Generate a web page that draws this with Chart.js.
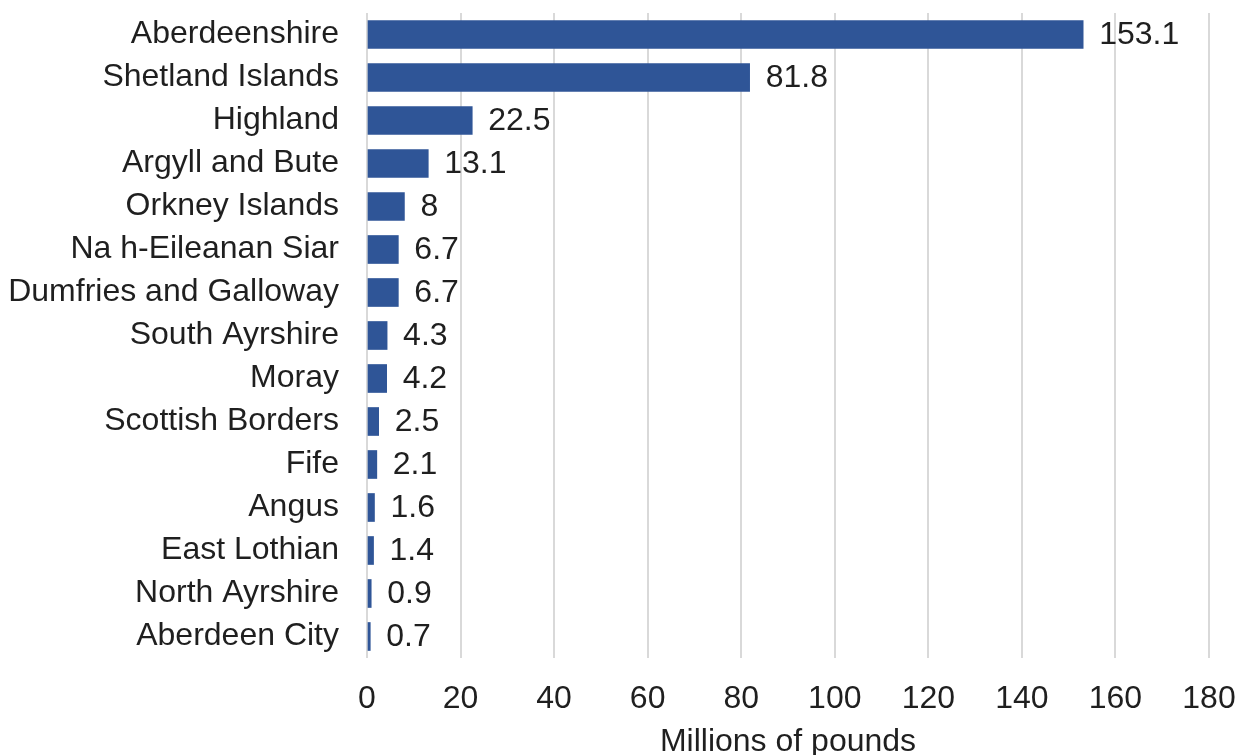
<!DOCTYPE html>
<html>
<head>
<meta charset="utf-8">
<script src="https://cdn.jsdelivr.net/npm/chart.js@4"></script>
<style>
  html, body { margin: 0; padding: 0; background: #fff; }
  #wrap { width: 1246px; height: 755px; }
</style>
</head>
<body>
<div id="wrap"><canvas id="myChart" width="1246" height="755"></canvas></div>
<script>
const areas = ["Aberdeenshire", "Shetland Islands", "Highland", "Argyll and Bute", "Orkney Islands",
    "Na h-Eileanan Siar", "Dumfries and Galloway", "South Ayrshire", "Moray", "Scottish Borders",
    "Fife", "Angus", "East Lothian", "North Ayrshire", "Aberdeen City"];
const values = [153.1, 81.8, 22.5, 13.1, 8, 6.7, 6.7, 4.3, 4.2, 2.5, 2.1, 1.6, 1.4, 0.9, 0.7];
const xTicks = [0, 20, 40, 60, 80, 100, 120, 140, 160, 180];
const axisTitle = "Millions of pounds";

const fontFamily = "'Liberation Sans', Arial, sans-serif";
const textColor = "#1f1f1f";

// value labels at the end of each bar
const barLabels = {
    id: "barLabels",
    afterDatasetsDraw(chart) {
        const ctx = chart.ctx;
        const meta = chart.getDatasetMeta(0);
        ctx.save();
        ctx.font = "32px " + fontFamily;
        ctx.fillStyle = textColor;
        ctx.textBaseline = "middle";
        ctx.textAlign = "left";
        meta.data.forEach((bar, i) => {
            ctx.fillText(String(values[i]), bar.x + 16, bar.y + 1);
        });
        ctx.restore();
    }
};

const ctx = document.getElementById('myChart').getContext('2d');
const myChart = new Chart(ctx, {
    type: 'bar',
    data: {
        labels: areas,
        datasets: [{
            data: values,
            backgroundColor: '#2f5597',
            barThickness: 28,
            categoryPercentage: 1
        }]
    },
    plugins: [barLabels],
    options: {
        indexAxis: 'y',
        responsive: false,
        animation: false,
        layout: { padding: { top: 13, right: 37, left: 0, bottom: 0 } },
        plugins: { legend: { display: false }, tooltip: { enabled: false } },
        scales: {
            x: {
                min: 0,
                max: 180,
                afterBuildTicks: (scale) => { scale.ticks = xTicks.map(v => ({ value: v })); },
                afterFit: (scale) => {
                    scale.height = 97;
                    scale.paddingLeft = 0;
                    scale.paddingRight = 0;
                },
                grid: { color: '#d9d9d9', lineWidth: 2, drawTicks: false },
                border: { display: false },
                ticks: {
                    padding: 22,
                    color: textColor,
                    font: { size: 32, family: fontFamily }
                },
                title: {
                    display: true,
                    text: axisTitle,
                    color: textColor,
                    padding: { top: 0, bottom: -6 },
                    font: { size: 32, family: fontFamily }
                }
            },
            y: {
                afterFit: (scale) => {
                    scale.width = 367;
                    scale.paddingTop = 0;
                    scale.paddingBottom = 0;
                },
                grid: { display: false, drawTicks: false },
                border: { display: false },
                ticks: {
                    autoSkip: false,
                    padding: 28,
                    color: textColor,
                    font: { size: 32, family: fontFamily }
                }
            }
        }
    }
});
</script>
</body>
</html>
